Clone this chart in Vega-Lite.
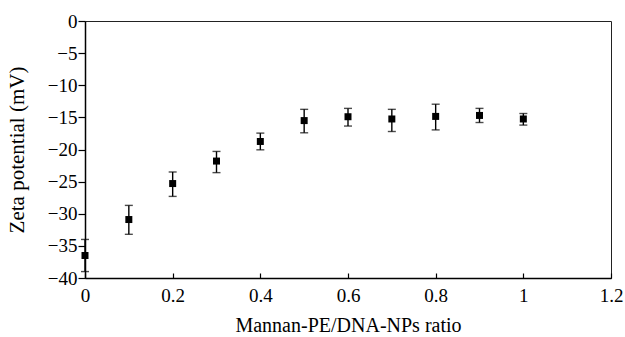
{
  "$schema": "https://vega.github.io/schema/vega-lite/v6.json",
  "autosize": {"type": "none"},
  "padding": {"left": 85, "top": 21, "right": 14, "bottom": 59},
  "width": 526,
  "height": 257,
  "background": "white",
  "config": {
    "view": {"stroke": "#222", "strokeWidth": 1},
    "axis": {
      "grid": false,
      "domainColor": "black",
      "domainWidth": 1.5,
      "tickColor": "black",
      "tickWidth": 1.2,
      "labelColor": "black",
      "titleColor": "black",
      "labelFont": "Liberation Serif",
      "titleFont": "Liberation Serif",
      "labelFontSize": 19,
      "titleFontSize": 20,
      "titleFontWeight": "normal",
      "labelOverlap": false,
      "labelFlush": false
    }
  },
  "data": {
    "values": [
      {"ratio": 0.0, "zeta": -36.5, "lo": -39.0, "hi": -34.0},
      {"ratio": 0.1, "zeta": -30.9, "lo": -33.2, "hi": -28.7},
      {"ratio": 0.2, "zeta": -25.3, "lo": -27.3, "hi": -23.5},
      {"ratio": 0.3, "zeta": -21.8, "lo": -23.6, "hi": -20.3},
      {"ratio": 0.4, "zeta": -18.75, "lo": -20.05, "hi": -17.45},
      {"ratio": 0.5, "zeta": -15.5, "lo": -17.4, "hi": -13.75},
      {"ratio": 0.6, "zeta": -14.9, "lo": -16.35, "hi": -13.6},
      {"ratio": 0.7, "zeta": -15.25, "lo": -17.2, "hi": -13.75},
      {"ratio": 0.8, "zeta": -14.85, "lo": -16.95, "hi": -12.95},
      {"ratio": 0.9, "zeta": -14.7, "lo": -15.8, "hi": -13.6},
      {"ratio": 1.0, "zeta": -15.25, "lo": -16.2, "hi": -14.4}
    ]
  },
  "encoding": {
    "x": {
      "field": "ratio", "type": "quantitative",
      "scale": {"domain": [0, 1.2], "nice": false, "zero": false},
      "axis": {
        "title": "Mannan-PE/DNA-NPs ratio",
        "values": [0, 0.2, 0.4, 0.6, 0.8, 1, 1.2],
        "format": "~g",
        "tickSize": -5,
        "labelPadding": 13,
        "titlePadding": 10
      }
    }
  },
  "layer": [
    {
      "mark": {"type": "rule", "color": "black", "strokeWidth": 1.4},
      "encoding": {
        "y": {"field": "lo", "type": "quantitative", "scale": {"domain": [-40, 0], "nice": false},
          "axis": {"title": "Zeta potential (mV)", "values": [-40, -35, -30, -25, -20, -15, -10, -5, 0], "format": "d", "tickSize": 7, "labelPadding": 1, "titlePadding": 20, "titleFontSize": 21}
        },
        "y2": {"field": "hi"}
      }
    },
    {
      "mark": {"type": "tick", "color": "black", "orient": "horizontal", "size": 8, "thickness": 1.4},
      "encoding": {"y": {"field": "lo", "type": "quantitative",
          "axis": {"title": "Zeta potential (mV)", "values": [-40, -35, -30, -25, -20, -15, -10, -5, 0], "format": "d", "tickSize": 7, "labelPadding": 1, "titlePadding": 20, "titleFontSize": 21}}}
    },
    {
      "mark": {"type": "tick", "color": "black", "orient": "horizontal", "size": 8, "thickness": 1.4},
      "encoding": {"y": {"field": "hi", "type": "quantitative",
          "axis": {"title": "Zeta potential (mV)", "values": [-40, -35, -30, -25, -20, -15, -10, -5, 0], "format": "d", "tickSize": 7, "labelPadding": 1, "titlePadding": 20, "titleFontSize": 21}}}
    },
    {
      "mark": {"type": "square", "color": "black", "opacity": 1, "size": 49},
      "encoding": {"y": {"field": "zeta", "type": "quantitative",
          "axis": {"title": "Zeta potential (mV)", "values": [-40, -35, -30, -25, -20, -15, -10, -5, 0], "format": "d", "tickSize": 7, "labelPadding": 1, "titlePadding": 20, "titleFontSize": 21}}}
    }
  ]
}
